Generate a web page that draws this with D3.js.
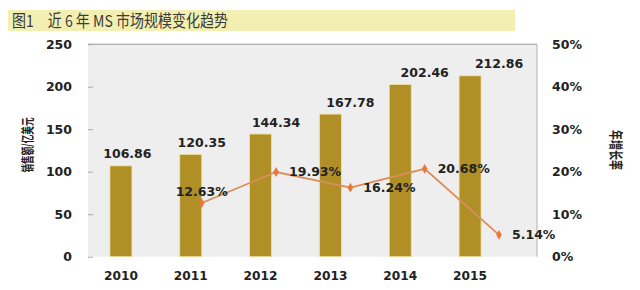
<!DOCTYPE html>
<html><head><meta charset="utf-8">
<script src="https://cdn.jsdelivr.net/npm/d3@7/dist/d3.min.js"></script>
<style>
body{margin:0;background:#fff;}
svg{display:block;}
</style></head>
<body><svg id="c" width="640" height="290"></svg>
<script>
const titleText = "图1　近 6 年 MS 市场规模变化趋势";
const years = ["2010","2011","2012","2013","2014","2015"];
const sales = [106.86,120.35,144.34,167.78,202.46,212.86];
const growthYears = ["2011","2012","2013","2014","2015"];
const growth = [12.63,19.93,16.24,20.68,5.14];
const leftTicks = [0,50,100,150,200,250];
const rightTicks = [0,10,20,30,40,50];
const leftTitle = "销售额/亿美元";
const rightTitle = "年增长率";

(function(){
const svg = d3.select("#c");
const numFont = "'DejaVu Sans', Verdana, sans-serif";
const cjkFont = "'Noto Sans CJK SC', sans-serif";

// title band
svg.append("rect").attr("x",8).attr("y",10).attr("width",507).attr("height",21).attr("fill","#f3efb3");
svg.append("text").attr("x",12).attr("y",26.5).attr("font-family",cjkFont).attr("font-size",16.5)
  .attr("fill","#3a3a3a").attr("textLength",216).attr("lengthAdjust","spacingAndGlyphs").text(titleText);

const pTop=44.2, pBottom=256.7, pLeft=88, pRight=537;
svg.append("rect").attr("x",pLeft).attr("y",pTop).attr("width",pRight-pLeft).attr("height",pBottom-pTop).attr("fill","#efeeee");
svg.append("line").attr("x1",pLeft).attr("x2",pRight).attr("y1",pTop).attr("y2",pTop).attr("stroke","#9a9a9a").attr("stroke-width",1);
svg.append("line").attr("x1",pRight).attr("x2",pRight).attr("y1",pTop).attr("y2",pBottom).attr("stroke","#b0b0b0").attr("stroke-width",1);

const x = d3.scaleBand().domain(years).range([86,505]).paddingInner(0.685).paddingOuter(0.3425);
const xp = d3.scalePoint().domain(years).range([127.4,499]);
const y = d3.scaleLinear().domain([0,250]).range([pBottom,pTop]);
const y2 = d3.scaleLinear().domain([0,50]).range([pBottom,pTop]);

// left axis
const ax = svg.append("g").attr("transform",`translate(${pLeft},0)`)
  .call(d3.axisLeft(y).tickValues(leftTicks).tickSizeInner(-5).tickSizeOuter(0).tickPadding(16));
ax.select(".domain").remove();
ax.selectAll(".tick line").attr("stroke","#aaa");
ax.selectAll("text").attr("font-family",numFont).attr("font-weight","bold").attr("font-size",12.5).attr("fill","#222");

// right axis
const ar = svg.append("g").attr("transform",`translate(${pRight},0)`)
  .call(d3.axisRight(y2).tickValues(rightTicks).tickSize(0).tickPadding(15).tickFormat(d=>d+"%"));
ar.select(".domain").remove();
ar.selectAll("text").attr("font-family",numFont).attr("font-weight","bold").attr("font-size",12.5).attr("fill","#222");

// x labels
svg.append("g").selectAll("text").data(years).join("text")
  .attr("x",d=>x(d)+x.bandwidth()/2).attr("y",280).attr("text-anchor","middle")
  .attr("font-family",numFont).attr("font-weight","bold").attr("font-size",12.2).attr("fill","#222").text(d=>d);

// bars
svg.append("g").selectAll("rect").data(sales).join("rect")
  .attr("x",(d,i)=>x(years[i])).attr("width",x.bandwidth())
  .attr("y",d=>y(d)).attr("height",d=>pBottom-y(d))
  .attr("fill","#b08f26").attr("stroke","#f2e2a2").attr("stroke-width",0.8);

// bar labels
svg.append("g").selectAll("text").data(sales).join("text")
  .attr("x",(d,i)=>xp(years[i])).attr("y",d=>y(d)-7.5).attr("text-anchor","middle")
  .attr("font-family",numFont).attr("font-weight","bold").attr("font-size",12.5).attr("fill","#222")
  .text(d=>d.toFixed(2));

// line
const line = d3.line().x((d,i)=>xp(growthYears[i])).y(d=>y2(d));
svg.append("path").datum(growth).attr("d",line).attr("fill","none").attr("stroke","#d98e5c").attr("stroke-width",1.8);
svg.append("g").selectAll("path").data(growth).join("path")
  .attr("transform",(d,i)=>`translate(${xp(growthYears[i])},${y2(d)})`)
  .attr("d",d3.symbol(d3.symbolDiamond,28)).attr("fill","#e8793e");

// growth labels
svg.append("g").selectAll("text").data(growth).join("text")
  .attr("x",(d,i)=> i===0 ? xp(growthYears[i]) : xp(growthYears[i])+13)
  .attr("y",(d,i)=> i===0 ? y2(d)-7 : y2(d)+4.5)
  .attr("text-anchor",(d,i)=> i===0 ? "middle" : "start")
  .attr("font-family",numFont).attr("font-weight","bold").attr("font-size",12.5).attr("fill","#222")
  .text(d=>d.toFixed(2)+"%");

// axis titles
svg.append("text").attr("transform","translate(32,145) rotate(-90)").attr("text-anchor","middle")
  .attr("font-family",cjkFont).attr("font-weight","bold").attr("font-size",13).attr("fill","#222")
  .attr("textLength",55).attr("lengthAdjust","spacingAndGlyphs").text(leftTitle);
svg.append("text").attr("transform","translate(611,150) rotate(90)").attr("text-anchor","middle")
  .attr("font-family",cjkFont).attr("font-weight","bold").attr("font-size",14).attr("fill","#222")
  .attr("textLength",40).attr("lengthAdjust","spacingAndGlyphs").text(rightTitle);
})();
</script></body></html>
